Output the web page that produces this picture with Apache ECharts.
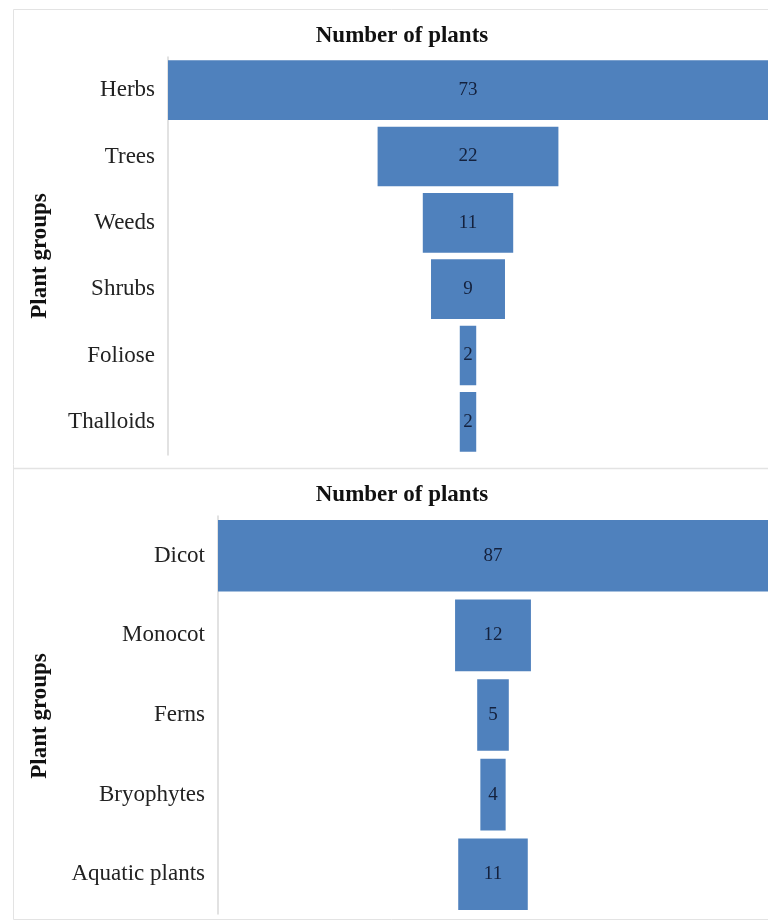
<!DOCTYPE html>
<html>
<head>
<meta charset="utf-8">
<script src="https://cdn.jsdelivr.net/npm/echarts@6/dist/echarts.min.js"></script>
<style>
  html, body { margin: 0; padding: 0; background: #fff; }
  #chart { width: 768px; height: 924px; }
</style>
</head>
<body>
<div id="chart"></div>
<script>
  // top panel
  var groupsTop = ['Herbs', 'Trees', 'Weeds', 'Shrubs', 'Foliose', 'Thalloids'];
  var countsTop = [73, 22, 11, 9, 2, 2];
  // bottom panel
  var groupsBottom = ['Dicot', 'Monocot', 'Ferns', 'Bryophytes', 'Aquatic plants'];
  var countsBottom = [87, 12, 5, 4, 11];

  var titleText = 'Number of plants';
  var axisName = 'Plant groups';

  var serif = '"Liberation Serif", "DejaVu Serif", serif';
  var barColor = '#4f81bd';
  var frameColor = '#e3e3e3';

  // invisible offset so each bar sits centred
  function offsets(arr) {
    var m = Math.max.apply(null, arr);
    return arr.map(function (v) { return (m - v) / 2; });
  }

  var myChart = echarts.init(document.getElementById('chart'));

  function catAxis(idx, cats) {
    return {
      type: 'category',
      gridIndex: idx,
      data: cats,
      inverse: true,
      axisTick: { show: false },
      axisLine: { show: true, lineStyle: { color: '#d9d9d9', width: 1.5 } },
      axisLabel: { color: '#222', fontFamily: serif, fontSize: 23, margin: 13 }
    };
  }

  function valAxis(idx, max) {
    return { type: 'value', gridIndex: idx, min: 0, max: max, show: false };
  }

  function barPair(idx, vals, name) {
    return [
      {
        type: 'bar', xAxisIndex: idx, yAxisIndex: idx, stack: name,
        data: offsets(vals), itemStyle: { color: 'transparent' },
        silent: true, barCategoryGap: '10%'
      },
      {
        type: 'bar', xAxisIndex: idx, yAxisIndex: idx, stack: name,
        data: vals, itemStyle: { color: barColor }, barCategoryGap: '10%',
        label: {
          show: true, position: 'inside', color: '#14213d',
          fontFamily: serif, fontSize: 19
        }
      }
    ];
  }

  myChart.setOption({
    animation: false,
    title: [
      { text: titleText, left: 397, top: 20, textAlign: 'center',
        textStyle: { fontFamily: serif, fontSize: 23, fontWeight: 'bold', color: '#111' } },
      { text: titleText, left: 397, top: 479, textAlign: 'center',
        textStyle: { fontFamily: serif, fontSize: 23, fontWeight: 'bold', color: '#111' } }
    ],
    grid: [
      { left: 168, right: 0, top: 57, height: 398 },
      { left: 218, right: 0, top: 516, height: 398 }
    ],
    xAxis: [valAxis(0, Math.max.apply(null, countsTop)), valAxis(1, Math.max.apply(null, countsBottom))],
    yAxis: [catAxis(0, groupsTop), catAxis(1, groupsBottom)],
    series: barPair(0, countsTop, 'top').concat(barPair(1, countsBottom, 'bottom')),
    graphic: [
      { type: 'rect', shape: { x: 13.5, y: 9.5, width: 800, height: 910 }, silent: true,
        style: { fill: 'none', stroke: frameColor, lineWidth: 1 } },
      { type: 'line', shape: { x1: 13, y1: 468.5, x2: 768, y2: 468.5 }, silent: true,
        style: { stroke: frameColor, lineWidth: 1.5 } },
      { type: 'text', x: 40, y: 256, rotation: Math.PI / 2, silent: true,
        style: { text: axisName, fontFamily: serif, fontSize: 23, fontWeight: 'bold', fill: '#111',
          align: 'center', verticalAlign: 'middle' } },
      { type: 'text', x: 40, y: 716, rotation: Math.PI / 2, silent: true,
        style: { text: axisName, fontFamily: serif, fontSize: 23, fontWeight: 'bold', fill: '#111',
          align: 'center', verticalAlign: 'middle' } }
    ]
  });
</script>
</body>
</html>
